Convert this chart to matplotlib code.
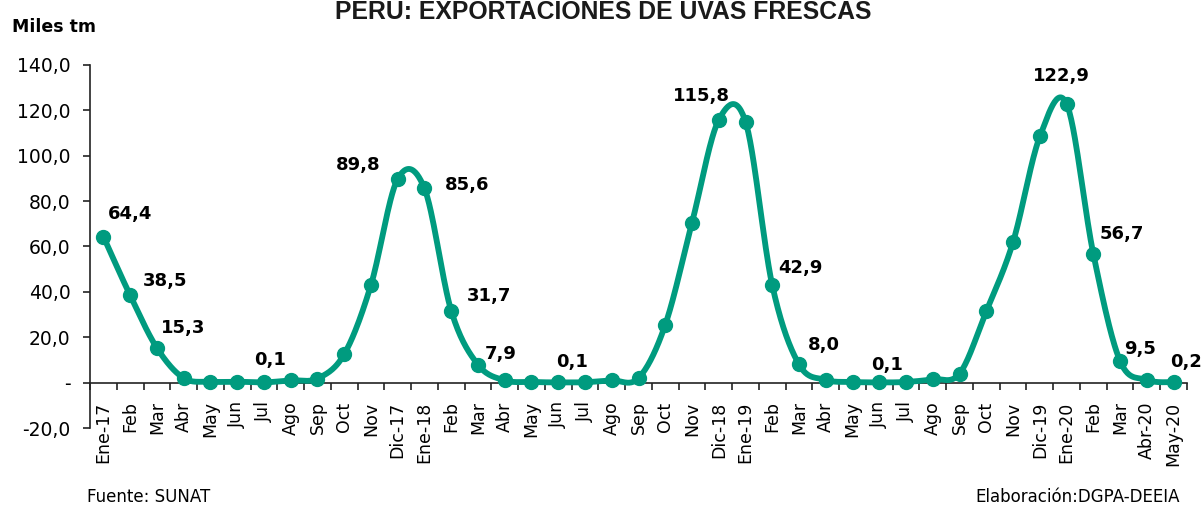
import numpy as np
import matplotlib.pyplot as plt
from matplotlib.ticker import FuncFormatter, FixedLocator, MultipleLocator

meses = ['Ene-17', 'Feb', 'Mar', 'Abr', 'May', 'Jun', 'Jul', 'Ago', 'Sep', 'Oct', 'Nov', 'Dic-17',
         'Ene-18', 'Feb', 'Mar', 'Abr', 'May', 'Jun', 'Jul', 'Ago', 'Sep', 'Oct', 'Nov', 'Dic-18',
         'Ene-19', 'Feb', 'Mar', 'Abr', 'May', 'Jun', 'Jul', 'Ago', 'Sep', 'Oct', 'Nov', 'Dic-19',
         'Ene-20', 'Feb', 'Mar', 'Abr-20', 'May-20']

miles_tm = [64.4, 38.5, 15.3, 2.0, 0.4, 0.4, 0.1, 1.0, 1.8, 12.5, 43.0, 89.8,
            85.6, 31.7, 7.9, 1.0, 0.3, 0.1, 0.2, 1.0, 2.0, 25.5, 70.5, 115.8,
            115.0, 42.9, 8.0, 1.2, 0.3, 0.1, 0.3, 1.5, 4.0, 31.5, 62.0, 108.5,
            122.9, 56.7, 9.5, 1.2, 0.2]

# meses con etiqueta de dato
con_etiqueta = [0, 1, 2, 6, 11, 12, 13, 14, 17, 23, 25, 26, 29, 36, 37, 38, 40]

# desplazamiento de cada etiqueta (pixeles)
desp = {0: (27, 23), 1: (35, 14), 2: (26, 20), 6: (6, 22), 11: (-40, 14),
        12: (43, 3), 13: (38, 15), 14: (23, 11), 17: (14, 20), 23: (-17, 24),
        25: (28, 17), 26: (25, 19), 29: (8, 17), 36: (-5, 28), 37: (28, 20),
        38: (20, 12), 40: (12, 20)}

verde = '#009B7F'


def suavizar(x, y, n=30):
    # curva suavizada tipo Excel (Bezier con tangentes Catmull-Rom)
    px = np.concatenate(([x[0]], x, [x[-1]]))
    py = np.concatenate(([y[0]], y, [y[-1]]))
    t = np.linspace(0, 1, n)
    xs, ys = [], []
    for i in range(1, len(px) - 2):
        p0, p1, p2, p3 = np.array([px[i-1], py[i-1]]), np.array([px[i], py[i]]), \
            np.array([px[i+1], py[i+1]]), np.array([px[i+2], py[i+2]])
        c1 = p1 + (p2 - p0) / 6
        c2 = p2 - (p3 - p1) / 6
        b = ((1-t)**3)[:, None]*p1 + (3*(1-t)**2*t)[:, None]*c1 + \
            (3*(1-t)*t**2)[:, None]*c2 + (t**3)[:, None]*p2
        xs.extend(b[:, 0]); ys.extend(b[:, 1])
    return np.array(xs), np.array(ys)


fig = plt.figure(figsize=(12.03, 5.05), dpi=100)
ax = fig.add_axes([90/1203, 77/505, 1097/1203, 363/505])

x = np.arange(len(meses))
y = np.array(miles_tm)
sx, sy = suavizar(x, y)
ax.plot(sx, sy, color=verde, lw=4.2, solid_capstyle='round', zorder=3)
ax.plot(x, y, 'o', color=verde, ms=10, zorder=4)

for i in con_etiqueta:
    dx, dy = desp[i]
    ax.annotate(f'{miles_tm[i]:.1f}'.replace('.', ','), (x[i], y[i]),
                xytext=(dx*0.72, dy*0.72), textcoords='offset points',
                ha='center', va='center', fontsize=13, fontweight='bold',
                color='black', zorder=5)

ax.set_xlim(-0.5, len(meses) - 0.5)
ax.set_ylim(-20, 140)

for s in ['top', 'right']:
    ax.spines[s].set_visible(False)
ax.spines['bottom'].set_position(('data', 0))
ax.spines['bottom'].set_color('#222222')
ax.spines['left'].set_color('#222222')
ax.spines['bottom'].set_linewidth(1.2)
ax.spines['left'].set_linewidth(1.2)

ax.xaxis.set_major_locator(FixedLocator(x))
ax.xaxis.set_minor_locator(FixedLocator(np.arange(-0.5, len(meses), 1.0)))
ax.set_xticklabels(meses, rotation=90, fontsize=12.5, color='black')
ax.tick_params(axis='x', which='major', length=0, pad=13.5)
ax.tick_params(axis='x', which='minor', length=5, width=1.2, color='#222222', direction='out')

ax.yaxis.set_major_locator(MultipleLocator(20))
ax.yaxis.set_major_formatter(FuncFormatter(
    lambda v, p: '-' if abs(v) < 1e-9 else f'{v:.1f}'.replace('.', ',')))
ax.tick_params(axis='y', length=5, width=1.2, color='#222222', pad=9,
               labelsize=13.5, labelcolor='black')

fig.text(603/1203, 1 - 19/505, 'PERÚ: EXPORTACIONES DE UVAS FRESCAS',
         ha='center', va='baseline', fontsize=17.8, fontweight='bold',
         family='Liberation Sans', color='#1a1a1a')
fig.text(12/1203, 1 - 27/505, 'Miles tm', ha='left', va='center',
         fontsize=12.5, fontweight='bold')
fig.text(87/1203, 1 - 497/505, 'Fuente: SUNAT', ha='left', va='center', fontsize=12)
fig.text(1180/1203, 1 - 497/505, 'Elaboración:DGPA-DEEIA', ha='right', va='center',
         fontsize=12)

fig.savefig('out.png', dpi=100)
